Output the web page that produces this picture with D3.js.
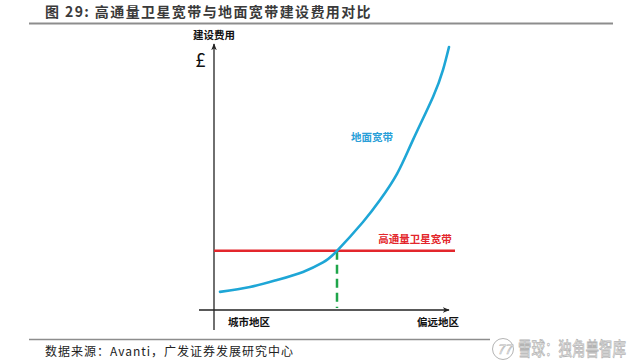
<!DOCTYPE html>
<html><head><meta charset="utf-8">
<script src="https://cdn.jsdelivr.net/npm/d3@7"></script>
<style>
html,body{margin:0;padding:0;background:#fff;}
svg{display:block;}
text{font-family:"Noto Sans CJK SC","Noto Sans",sans-serif;}
</style></head>
<body>
<script>
// Data (arbitrary cost units)
const groundX = [0.24, 1.44, 2.52, 3.56, 4.36, 4.92, 5.96, 6.64, 7.32, 7.96, 8.76, 9.16, 9.40];
const groundY = [0.67, 0.85, 1.11, 1.41, 1.76, 2.19, 3.26, 4.07, 5.04, 6.30, 7.89, 8.89, 9.74];
const satelliteX = [0, 9.64];
const satelliteY = [2.19, 2.19];
const breakEvenX = [4.92, 4.92];
const breakEvenY = [0, 2.19];
const xLabels = ["城市地区", "偏远地区"];
const yLabel = "建设费用";
const seriesNames = ["地面宽带", "高通量卫星宽带"];
const title = "图 29:  高通量卫星宽带与地面宽带建设费用对比";
const source = "数据来源：Avanti，广发证券发展研究中心";

const W = 640, H = 361;
const svg = d3.select("body").append("svg").attr("width", W).attr("height", H);

const x = d3.scaleLinear().domain([0, 10]).range([214, 464]);
const y = d3.scaleLinear().domain([0, 10]).range([310, 40]);

const defs = svg.append("defs");
defs.append("marker").attr("id", "arr").attr("viewBox", "0 0 10 10")
  .attr("refX", 9).attr("refY", 5).attr("markerWidth", 7).attr("markerHeight", 7)
  .attr("markerUnits", "userSpaceOnUse").attr("orient", "auto")
  .append("path").attr("d", "M0,1 L10,5 L0,9 L3,5 Z").attr("fill", "#222");

// Title
svg.append("text").attr("x", 45).attr("y", 17).attr("font-size", 14).attr("font-weight", "bold")
  .attr("fill", "#3a3a3a").attr("letter-spacing", 1.4).text(title);
svg.append("line").attr("x1", 29).attr("x2", 613).attr("y1", 23.5).attr("y2", 23.5)
  .attr("stroke", "#8d8d8d").attr("stroke-width", 2);

// Axes
svg.append("line").attr("x1", x(0)).attr("x2", x(0)).attr("y1", y(0) + 20).attr("y2", 44)
  .attr("stroke", "#222").attr("stroke-width", 1.3).attr("marker-end", "url(#arr)");
svg.append("line").attr("x1", x(0) - 15).attr("x2", 449).attr("y1", y(0)).attr("y2", y(0))
  .attr("stroke", "#222").attr("stroke-width", 1.3).attr("marker-end", "url(#arr)");

svg.append("text").attr("x", 214).attr("y", 39).attr("text-anchor", "middle")
  .attr("font-size", 10.5).attr("font-weight", "bold").attr("fill", "#111").text(yLabel);
svg.append("text").attr("x", 200.5).attr("y", 67).attr("text-anchor", "middle")
  .attr("font-size", 19).attr("fill", "#111").attr("font-family", "Liberation Sans").text("£");

svg.append("text").attr("x", 249).attr("y", 326).attr("text-anchor", "middle")
  .attr("font-size", 10.5).attr("font-weight", "bold").attr("fill", "#111").text(xLabels[0]);
svg.append("text").attr("x", 438).attr("y", 326).attr("text-anchor", "middle")
  .attr("font-size", 10.5).attr("font-weight", "bold").attr("fill", "#111").text(xLabels[1]);

// Break-even dashed line
svg.append("line").attr("x1", x(breakEvenX[0])).attr("x2", x(breakEvenX[1]))
  .attr("y1", y(breakEvenY[1])).attr("y2", y(breakEvenY[0]) - 2)
  .attr("stroke", "#1fa54a").attr("stroke-width", 2.5).attr("stroke-dasharray", "9,5");

// Satellite line
svg.append("line").attr("x1", x(satelliteX[0])).attr("x2", x(satelliteX[1]))
  .attr("y1", y(satelliteY[0])).attr("y2", y(satelliteY[1]))
  .attr("stroke", "#e3262c").attr("stroke-width", 2.5);

// Ground curve
const pts = groundX.map((v, i) => [v, groundY[i]]);
const line = d3.line().x(d => x(d[0])).y(d => y(d[1])).curve(d3.curveNatural);
svg.append("path").attr("d", line(pts)).attr("fill", "none")
  .attr("stroke", "#1ea6d6").attr("stroke-width", 2.6).attr("stroke-linecap", "round");

// Series labels
svg.append("text").attr("x", 372).attr("y", 141).attr("text-anchor", "middle")
  .attr("font-size", 10.5).attr("font-weight", "bold").attr("fill", "#2a9fd8").text(seriesNames[0]);
svg.append("text").attr("x", 415).attr("y", 243).attr("text-anchor", "middle")
  .attr("font-size", 10.5).attr("font-weight", "bold").attr("fill", "#e3262c").text(seriesNames[1]);

// Footer
svg.append("line").attr("x1", 29).attr("x2", 490).attr("y1", 339.5).attr("y2", 339.5)
  .attr("stroke", "#8d8d8d").attr("stroke-width", 1.5);
svg.append("text").attr("x", 45).attr("y", 356).attr("font-size", 12).attr("letter-spacing", 1)
  .attr("fill", "#222").text(source);

// Watermark
const wm = svg.append("g").attr("fill", "#fff").attr("stroke", "#b4b4b4").attr("stroke-width", 0.6);
wm.append("circle").attr("cx", 503).attr("cy", 349).attr("r", 10.5).attr("fill", "none").attr("stroke-width", 1);
wm.append("text").attr("x", 497).attr("y", 354).attr("font-size", 13).attr("font-style", "italic").text("77");
wm.append("text").attr("transform", "translate(518,356) scale(1,1.4)").attr("font-size", 13.5)
  .text("雪球：独角兽智库");
</script>
</body></html>
